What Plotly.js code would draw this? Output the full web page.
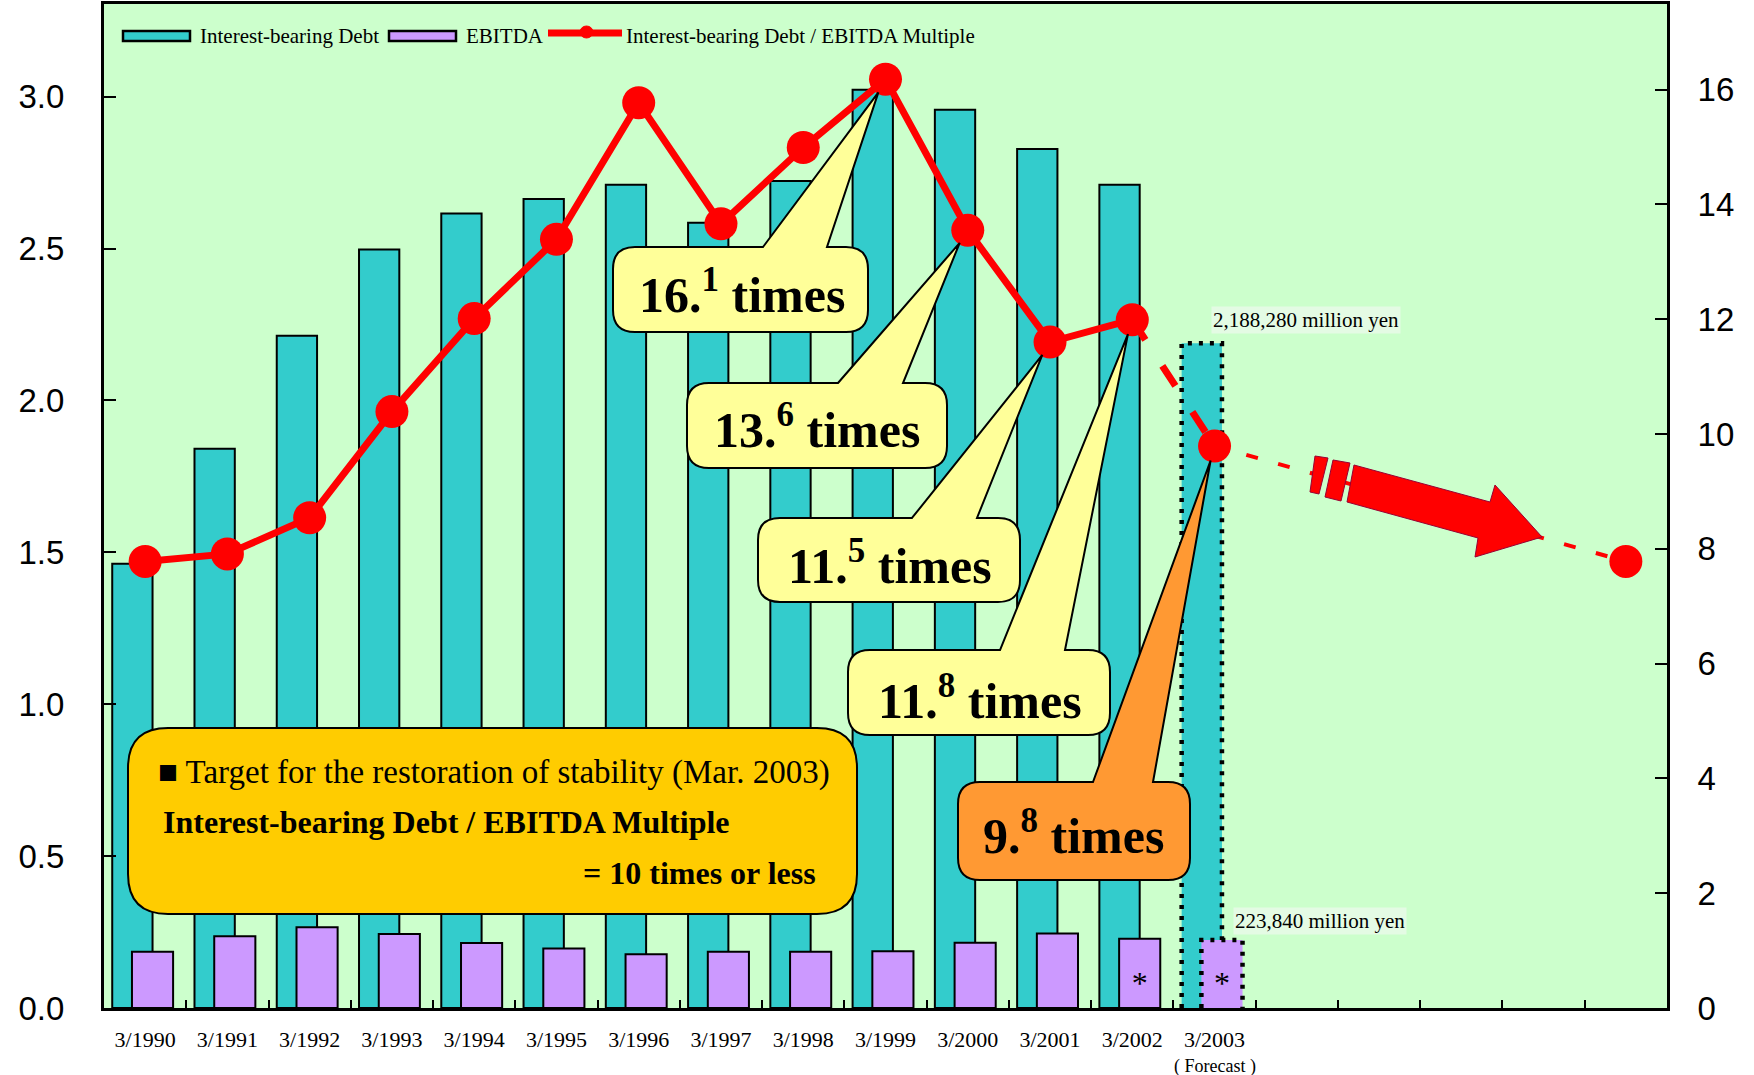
<!DOCTYPE html>
<html><head><meta charset="utf-8">
<script src="https://cdn.plot.ly/plotly-3.0.1.min.js"></script>
<style>html,body{margin:0;padding:0;background:#fff}#chart{width:1754px;height:1075px}</style>
</head><body><div id="chart"></div>
<script>
// ---------------- data ----------------
const years = ['3/1990','3/1991','3/1992','3/1993','3/1994','3/1995','3/1996','3/1997','3/1998','3/1999','3/2000','3/2001','3/2002','3/2003'];
const debt = [1.462,1.841,2.213,2.497,2.615,2.663,2.710,2.585,2.722,3.023,2.957,2.828,2.710,2.18828];      // trillion yen
const ebitda = [0.185,0.236,0.266,0.244,0.214,0.196,0.177,0.185,0.185,0.187,0.215,0.245,0.228,0.22384]; // trillion yen
const multiple = [7.78,7.91,8.54,10.39,12.01,13.39,15.77,13.66,14.99,16.18,13.55,11.60,11.99,9.79];    // times
const futureIndex = 18;
const futureMultiple = 7.78;
const starredIndex = [12,13];
const calloutIndex = [9,10,11,12,13];
const calloutText = ['16.<sup>1</sup> times','13.<sup>6</sup> times','11.<sup>5</sup> times','11.<sup>8</sup> times','9.<sup>8</sup> times'];
const debtForecastLabel = '2,188,280 million yen';
const ebitdaForecastLabel = '223,840 million yen';
const forecastNote = '( Forecast )';
const targetLines = ['■ Target for the restoration of stability (Mar. 2003)','<b>Interest-bearing Debt / EBITDA Multiple</b>','<b>= 10 times or less</b>'];
const seriesNames = ['Interest-bearing Debt','EBITDA','Interest-bearing Debt / EBITDA Multiple'];

// ---------------- geometry ----------------
const W=1754,H=1075,ML=104,MR=87,MT=4,MB=67;
const PX0=ML, PX1=W-MR, PY0=MT, PY1=H-MB;
const XR=[-0.5,18.5], YR=[0,3.305], Y2R=[0,17.49];
const pxX = v => PX0 + (v-XR[0])/(XR[1]-XR[0])*(PX1-PX0);
const pxY2 = v => PY1 - (v-Y2R[0])/(Y2R[1]-Y2R[0])*(PY1-PY0);
const P = (px,py) => [(px-PX0)/(PX1-PX0), (PY1-py)/(PY1-PY0)];
const pathFrom = cmds => cmds.map(c => {
  if (c[0]==='Z') return 'Z';
  const pts=[]; for(let i=1;i<c.length;i+=2){const p=P(c[i],c[i+1]); pts.push(p[0].toFixed(5)+','+p[1].toFixed(5));}
  return c[0]+pts.join(' ');
}).join(' ');

const idx = years.map((_,i)=>i);
const fIdx = years.length-1;
const debtOff=-0.40, debtW=0.49, ebOff=-0.16, ebW=0.50;
const RED='#FF0000', TEAL='#33CCCC', PURPLE='#CC99FF';
const SERIF='Liberation Serif';

const traces = [
  {type:'bar', name:seriesNames[0], x:idx, y:debt, offset:debtOff, width:debtW,
   marker:{color:TEAL, line:{color:'#000', width:idx.map(i=>i===fIdx?0:2)}}, hoverinfo:'y'},
  {type:'bar', name:seriesNames[1], x:idx, y:ebitda, offset:ebOff, width:ebW,
   marker:{color:PURPLE, line:{color:'#000', width:idx.map(i=>i===fIdx?0:2)}}, hoverinfo:'y'},
  // dotted outlines of the forecast bars
  {type:'scatter', mode:'lines', showlegend:false, hoverinfo:'skip',
   x:[fIdx+debtOff,fIdx+debtOff,fIdx+debtOff+debtW,fIdx+debtOff+debtW,null,
      fIdx+ebOff,fIdx+ebOff,fIdx+ebOff+ebW,fIdx+ebOff+ebW],
   y:[0,debt[fIdx],debt[fIdx],ebitda[fIdx],null,0,ebitda[fIdx],ebitda[fIdx],0],
   line:{color:'#000', width:4.5, dash:'4px,7px'}},
  // asterisks on EBITDA bars
  {type:'scatter', mode:'text', showlegend:false, hoverinfo:'skip',
   x:starredIndex.map(i=>i+ebOff+ebW/2), y:starredIndex.map(i=>ebitda[i]*0.32),
   text:starredIndex.map(()=> '*'), textposition:'middle center',
   textfont:{family:SERIF, size:32, color:'#000'}},
  {type:'scatter', mode:'lines+markers', name:seriesNames[2], xaxis:'x2', yaxis:'y2',
   x:idx.slice(0,fIdx), y:multiple.slice(0,fIdx),
   line:{color:RED, width:7}, marker:{color:RED, size:33}},
  {type:'scatter', mode:'lines', showlegend:false, xaxis:'x2', yaxis:'y2', hoverinfo:'skip',
   x:[fIdx-1,fIdx], y:[multiple[fIdx-1],multiple[fIdx]], line:{color:RED, width:7, dash:'24px,31px'}},
  {type:'scatter', mode:'lines', showlegend:false, xaxis:'x2', yaxis:'y2', hoverinfo:'skip',
   x:[fIdx,futureIndex], y:[multiple[fIdx],futureMultiple], line:{color:RED, width:4, dash:'12px,21px'}},
  {type:'scatter', mode:'markers', showlegend:false, xaxis:'x2', yaxis:'y2',
   x:[fIdx,futureIndex], y:[multiple[fIdx],futureMultiple], marker:{color:RED, size:33}}
];

const shapes=[], annotations=[];
function roundRect(x0,x1,y0,y1,r,wedge){
  const c=[];
  if(wedge){ c.push(['M',wedge[0],y0],['L',wedge[2],wedge[3]],['L',wedge[1],y0]); }
  else c.push(['M',x0+r,y0]);
  c.push(['L',x1-r,y0],['Q',x1,y0,x1,y0+r],['L',x1,y1-r],['Q',x1,y1,x1-r,y1],
         ['L',x0+r,y1],['Q',x0,y1,x0,y1-r],['L',x0,y0+r],['Q',x0,y0,x0+r,y0],['Z']);
  return pathFrom(c);
}

// ---------------- custom legend ----------------
const legY=36;
[[123,190,TEAL],[389,456,PURPLE]].forEach(s=>{
  const a=P(s[0],legY-5), b=P(s[1],legY+5);
  shapes.push({type:'rect', xref:'paper', yref:'paper', layer:'above', x0:a[0], y0:a[1], x1:b[0], y1:b[1],
    fillcolor:s[2], line:{color:'#000', width:2.5}});
});
{ const a=P(548,legY-3), b=P(622,legY-3);
  shapes.push({type:'line', xref:'paper', yref:'paper', layer:'above', x0:a[0], y0:a[1], x1:b[0], y1:b[1],
    line:{color:RED, width:7}});
  const c0=P(580,legY-10), c1=P(593,legY+2);
  shapes.push({type:'circle', xref:'paper', yref:'paper', layer:'above', x0:c0[0], y0:c0[1], x1:c1[0], y1:c1[1],
    fillcolor:RED, line:{color:RED, width:1}});
}
[[198,seriesNames[0]],[464,seriesNames[1]],[624,seriesNames[2]]].forEach(t=>{
  const p=P(t[0],legY);
  annotations.push({xref:'paper', yref:'paper', x:p[0], y:p[1], xanchor:'left', yanchor:'middle',
    showarrow:false, text:t[1], font:{family:SERIF, size:21, color:'#000'}});
});

// ---------------- callout bubbles ----------------
const bubbles = [
  {b:[613,868,247,332], base:[763,827], c:[742,292], fill:'#FFFF99'},
  {b:[687,947,383,468], base:[838,903], c:[817,427], fill:'#FFFF99'},
  {b:[758,1020,518,602], base:[912,977], c:[890,562], fill:'#FFFF99'},
  {b:[848,1110,650,735], base:[1000,1065], c:[980,697], fill:'#FFFF99'},
  {b:[958,1190,782,880], base:[1093,1153], c:[1073,833], fill:'#FF9933'}
];
bubbles.forEach((bb,k)=>{
  const i=calloutIndex[k];
  const cx=pxX(i), cy=pxY2(multiple[i]);
  const mx=(bb.base[0]+bb.base[1])/2, my=bb.b[2];
  const d=Math.hypot(mx-cx,my-cy), tx=cx+(mx-cx)/d*15, ty=cy+(my-cy)/d*15;
  shapes.push({type:'path', xref:'paper', yref:'paper', layer:'above',
    path:roundRect(bb.b[0],bb.b[1],bb.b[2],bb.b[3],22,[bb.base[0],bb.base[1],tx,ty]),
    fillcolor:bb.fill, line:{color:'#000', width:2}});
  const p=P(bb.c[0],bb.c[1]);
  annotations.push({xref:'paper', yref:'paper', x:p[0], y:p[1], xanchor:'center', yanchor:'middle',
    showarrow:false, text:'<b>'+calloutText[k]+'</b>', font:{family:SERIF, size:50, color:'#000'}});
});

// target box
shapes.push({type:'path', xref:'paper', yref:'paper', layer:'above',
  path:roundRect(128,857,728,914,40,null), fillcolor:'#FFCC00', line:{color:'#000', width:2}});
[[156,772,'left',33],[161,822,'left',32],[818,873,'right',32]].forEach((t,k)=>{
  const p=P(t[0],t[1]);
  annotations.push({xref:'paper', yref:'paper', x:p[0], y:p[1], xanchor:t[2], yanchor:'middle',
    showarrow:false, text:targetLines[k], font:{family:SERIF, size:t[3], color:'#000'}});
});

// big red arrow
const arrowStyle={fillcolor:RED, line:{color:'#990033', width:1}};
[
  [['M',1315,456],['L',1328,458],['L',1319,494],['L',1310,492],['Z']],
  [['M',1333,460],['L',1350,463],['L',1341,501],['L',1325,497],['Z']],
  [['M',1354,465],['L',1490,502],['L',1495,485],['L',1542,537],['L',1475,557],['L',1478,538],['L',1347,502],['Z']]
].forEach(c=>shapes.push(Object.assign({type:'path', xref:'paper', yref:'paper', layer:'above', path:pathFrom(c)}, arrowStyle)));

// forecast labels
annotations.push({xref:'x', yref:'y', x:fIdx, y:debt[fIdx], xanchor:'left', yanchor:'bottom', yshift:9, xshift:-4,
  showarrow:false, text:debtForecastLabel, bgcolor:'#E4FBE4', borderpad:1,
  font:{family:SERIF, size:21, color:'#000'}});
annotations.push({xref:'x', yref:'y', x:fIdx+0.25, y:ebitda[fIdx], xanchor:'left', yanchor:'bottom', yshift:5, xshift:-2,
  showarrow:false, text:ebitdaForecastLabel, bgcolor:'#E4FBE4', borderpad:1,
  font:{family:SERIF, size:21, color:'#000'}});
annotations.push({xref:'x', yref:'paper', x:fIdx, y:P(0,1066)[1], xanchor:'center', yanchor:'middle',
  showarrow:false, text:forecastNote, font:{family:SERIF, size:18, color:'#000'}});

const layout = {
  width:W, height:H, margin:{l:ML, r:MR, t:MT, b:MB, pad:0},
  paper_bgcolor:'#FFFFFF', plot_bgcolor:'#CCFFCC',
  barmode:'overlay', bargap:0,
  showlegend:false,
  xaxis:{range:XR, tickmode:'array', tickvals:idx, ticktext:years, ticks:'',
    showline:true, mirror:true, linecolor:'#000', linewidth:3, showgrid:false, zeroline:false,
    tickfont:{family:SERIF, size:22, color:'#000'}, ticklabelstandoff:10},
  xaxis2:{range:XR, overlaying:'x', anchor:'y2', side:'bottom', tickmode:'array',
    tickvals:[0.5,1.5,2.5,3.5,4.5,5.5,6.5,7.5,8.5,9.5,10.5,11.5,12.5,13.5,14.5,15.5,16.5,17.5],
    ticks:'inside', ticklen:8, tickwidth:2, tickcolor:'#000', showticklabels:false,
    showline:false, showgrid:false, zeroline:false},
  yaxis:{range:YR, tickmode:'array', tickvals:[0,0.5,1,1.5,2,2.5,3], tickformat:'.1f',
    ticks:'inside', ticklen:12, tickwidth:2, tickcolor:'#000',
    showline:true, linecolor:'#000', linewidth:3, showgrid:false, zeroline:false,
    tickfont:{family:'Liberation Sans', size:33, color:'#000'}, ticklabelstandoff:30},
  yaxis2:{range:Y2R, overlaying:'y', anchor:'x2', side:'right', tickmode:'array',
    tickvals:[0,2,4,6,8,10,12,14,16], ticks:'inside', ticklen:12, tickwidth:2, tickcolor:'#000',
    showline:true, linecolor:'#000', linewidth:3, showgrid:false, zeroline:false,
    tickfont:{family:'Liberation Sans', size:33, color:'#000'}, ticklabelstandoff:21},
  shapes:shapes, annotations:annotations
};
Plotly.newPlot('chart', traces, layout, {displayModeBar:false, staticPlot:true});
</script>
</body></html>
